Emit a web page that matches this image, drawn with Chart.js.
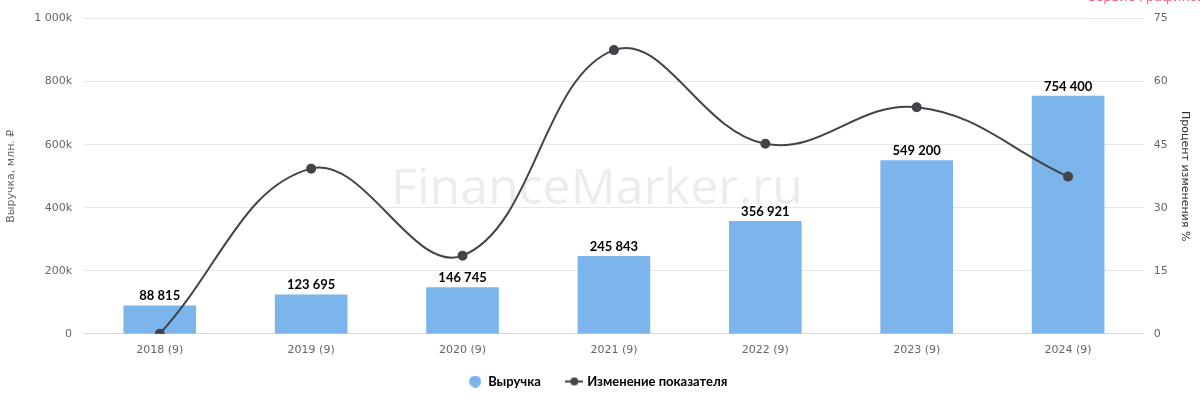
<!DOCTYPE html>
<html>
<head>
<meta charset="utf-8">
<script src="https://cdn.jsdelivr.net/npm/chart.js@4"></script>
<style>
  html, body { margin: 0; padding: 0; background: #fff; }
  #wrap { width: 1200px; height: 400px; }
</style>
</head>
<body>
<div id="wrap"><canvas id="barChart" width="1200" height="400"></canvas></div>
<script>
// chart data
const years = ["2018 (9)", "2019 (9)", "2020 (9)", "2021 (9)", "2022 (9)", "2023 (9)", "2024 (9)"];
const revenue = [88815, 123695, 146745, 245843, 356921, 549200, 754400];
const changePct = [0, 39.3, 18.6, 67.5, 45.2, 53.9, 37.4];

function fmtSpace(n) {
  return String(n).replace(/\B(?=(\d{3})+(?!\d))/g, " ");
}

// legend symbol for the line series: short line with a dot
function lineSymbol() {
  const c = document.createElement("canvas");
  c.width = 18; c.height = 10;
  const g = c.getContext("2d");
  g.strokeStyle = "#434348";
  g.lineWidth = 2;
  g.beginPath(); g.moveTo(0, 5); g.lineTo(18, 5); g.stroke();
  g.fillStyle = "#434348";
  g.beginPath(); g.arc(9, 5, 4, 0, Math.PI * 2); g.fill();
  return c;
}

function dotSymbol() {
  const c = document.createElement("canvas");
  c.width = 12; c.height = 12;
  const g = c.getContext("2d");
  g.fillStyle = "#7cb5ec";
  g.beginPath(); g.arc(6, 6, 6, 0, Math.PI * 2); g.fill();
  return c;
}

const watermark = {
  id: "watermark",
  beforeDatasetsDraw(chart) {
    const ctx = chart.ctx;
    ctx.save();
    ctx.font = "50px 'Open Sans', 'DejaVu Sans', sans-serif";
    ctx.fillStyle = "rgba(0,0,0,0.075)";
    ctx.textAlign = "center";
    ctx.textBaseline = "middle";
    ctx.fillText("FinanceMarker.ru", 597, 190);
    ctx.restore();
  },
  afterDraw(chart) {
    const ctx = chart.ctx;
    ctx.save();
    ctx.font = "13px 'DejaVu Sans', sans-serif";
    ctx.fillStyle = "#ff5a7a";
    ctx.textAlign = "right";
    ctx.textBaseline = "alphabetic";
    ctx.fillText("Сервис графиков", 1205, 1);
    ctx.restore();
  }
};

const barLabels = {
  id: "barLabels",
  afterDatasetsDraw(chart) {
    const ctx = chart.ctx;
    const meta = chart.getDatasetMeta(1);
    ctx.save();
    ctx.font = "bold 13px Lato, 'DejaVu Sans', sans-serif";
    ctx.fillStyle = "#000";
    ctx.textAlign = "center";
    ctx.textBaseline = "bottom";
    meta.data.forEach((bar, i) => {
      ctx.fillText(fmtSpace(revenue[i]), bar.x, bar.y - 3);
    });
    ctx.restore();
  }
};

const ctx = document.getElementById("barChart").getContext("2d");
new Chart(ctx, {
  data: {
    labels: years,
    datasets: [
      {
        type: "line",
        label: "Изменение показателя",
        data: changePct,
        yAxisID: "y1",
        borderColor: "#434348",
        backgroundColor: "#434348",
        borderWidth: 2,
        pointRadius: 4,
        pointHoverRadius: 4,
        tension: 0.4,
        order: 0
      },
      {
        type: "bar",
        label: "Выручка",
        data: revenue,
        yAxisID: "y",
        backgroundColor: "#7cb5ec",
        barThickness: 72,
        order: 1
      }
    ]
  },
  options: {
    responsive: false,
    animation: false,
    layout: { padding: { top: 8, left: 1, right: 5, bottom: 2 } },
    plugins: {
      tooltip: { enabled: false },
      legend: {
        position: "bottom",
        labels: {
          usePointStyle: true,
          color: "#333",
          font: { size: 13, weight: "bold", family: "Lato, 'DejaVu Sans', sans-serif" },
          padding: 8,
          generateLabels(chart) {
            return [
              { text: "Выручка      ", fillStyle: "#7cb5ec", strokeStyle: "#7cb5ec", pointStyle: dotSymbol(), datasetIndex: 1, lineWidth: 0 },
              { text: "Изменение показателя", fillStyle: "#434348", strokeStyle: "#434348", pointStyle: lineSymbol(), datasetIndex: 0, lineWidth: 0 }
            ];
          }
        }
      }
    },
    scales: {
      x: {
        grid: { display: false, drawTicks: false },
        border: { color: "#ccd6eb", width: 1 },
        ticks: { color: "#666", font: { size: 11, family: "'DejaVu Sans', sans-serif" }, padding: 10 }
      },
      y: {
        position: "left",
        min: 0,
        max: 1000000,
        ticks: {
          stepSize: 200000,
          color: "#666",
          padding: 12,
          font: { size: 11, family: "'DejaVu Sans', sans-serif" },
          callback: v => v === 0 ? "0" : fmtSpace(v / 1000) + "k"
        },
        grid: { color: "#e6e6e6", drawTicks: false },
        border: { display: false },
        title: { display: true, text: "Выручка, млн. ₽", color: "#666", font: { size: 11, family: "'DejaVu Sans', sans-serif" } }
      },
      y1: {
        position: "right",
        min: 0,
        max: 75,
        ticks: {
          stepSize: 15,
          color: "#666",
          padding: 10,
          font: { size: 11, family: "'DejaVu Sans', sans-serif" }
        },
        grid: { display: false, drawTicks: false },
        border: { display: false },
        title: { display: true, text: "Процент изменения %", color: "#333", font: { size: 11, family: "'DejaVu Sans', sans-serif" }, padding: { top: 4, bottom: 0 } }
      }
    }
  },
  plugins: [watermark, barLabels]
});
</script>
</body>
</html>
